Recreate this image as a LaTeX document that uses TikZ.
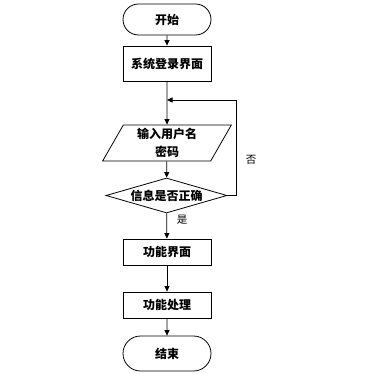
\documentclass[tikz,border=0pt]{standalone}
\usepackage{fontspec}
\newfontfamily\cjk{Noto Sans CJK SC}
\usetikzlibrary{shapes.geometric,shapes.misc,arrows.meta}
\begin{document}
\begin{tikzpicture}[x=1pt,y=1pt,
  base/.style={draw=black,line width=0.8pt,font=\cjk\bfseries\fontsize{12pt}{18.5pt}\selectfont,text=black,inner sep=0pt,align=center},
  term/.style={base,rounded rectangle,minimum width=88pt},
  procbox/.style={base,rectangle,minimum width=88pt},
  iobox/.style={base,trapezium,trapezium left angle=64.7,trapezium right angle=115.3,trapezium stretches=true,minimum width=129pt,minimum height=36pt},
  decide/.style={base,diamond,minimum width=121pt,minimum height=35pt,aspect=3.5},
  arr/.style={draw=black,line width=0.8pt,-{Triangle[length=5.5pt,width=5pt]}},
  lbl/.style={font=\cjk\fontsize{10.5pt}{12pt}\selectfont,text=black,inner sep=0pt}
]
\useasboundingbox (0,0) rectangle (372,-374);
\node[term,minimum height=31pt] (start) at (167,-19.5) {开始};
\node[procbox,minimum height=35pt] (login) at (167,-63.5) {系统登录界面};
\node[iobox] (input) at (167,-143) {输入用户名\\密码};
\node[decide] (check) at (166.5,-195.5) {信息是否正确};
\node[procbox,minimum height=26pt] (func) at (167,-252) {功能界面};
\node[procbox,minimum height=26pt] (proc) at (167,-305) {功能处理};
\node[term,minimum height=35pt] (end) at (167,-353.5) {结束};
\coordinate (j) at (167,-100);
\coordinate (r) at (236,-100);
\draw[arr] (start) -- (login);
\draw[arr] (login) -- (input);
\draw[arr] (input) -- (check);
\draw[arr] (check.east) -| (r) -- (j);
\draw[arr] (check) -- (func);
\draw[arr] (func) -- (proc);
\draw[arr] (proc) -- (end);
\node[lbl] (no) at (251,-160) {否};
\node[lbl] (yes) at (182,-220) {是};
\end{tikzpicture}
\end{document}
